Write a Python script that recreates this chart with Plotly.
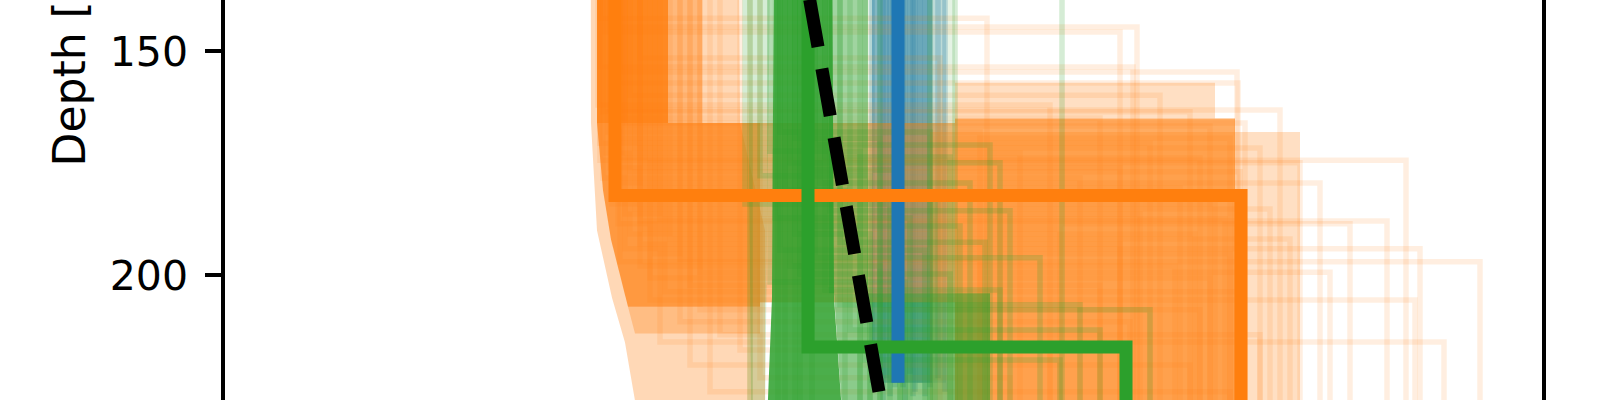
import plotly.graph_objects as go

# ---------------- data (Vs in m/s, depth in m) ----------------
depth_ticks = [150, 200]
y_label = "Depth [m]"

# reference (true) model: linear gradient
true_depth = [0, 250]
true_vs = [700, 898]

# best-fitting models
blue_best_depth = [0, 224.0]
blue_best_vs = [898, 898]
orange_best_depth = [0, 182.2, 182.2, 250]
orange_best_vs = [615, 615, 1241, 1241]
green_best_depth = [0, 216.0, 216.0, 250]
green_best_vs = [808, 808, 1126, 1126]

# ensemble members: two-layer models (Vs top, interface depth, Vs bottom)
orange_vs_top = [600, 610, 605, 640, 600, 620, 615, 630, 610, 625, 600, 640, 620, 650, 660,
                 598, 603, 612, 625, 608, 618, 600, 635, 606, 622, 645, 610, 630, 603, 615,
                 640, 620, 655, 612, 635, 625, 660, 618, 645, 630, 670, 640, 625, 655, 680,
                 640, 700, 650, 690, 665, 700, 680, 720, 740, 690, 760, 710, 750]
orange_iface = [142.6, 144.6, 145.7, 151.5, 153.5, 154.6, 157.1, 159.8, 163.1, 166.0, 174.3, 187.9, 197.0, 205.5, 214.9,
                162.0, 163.5, 164.9, 166.7, 168.0, 169.4, 170.5, 171.6, 172.7, 173.8, 174.9, 176.0, 176.9, 178.3, 179.4,
                180.5, 181.6, 182.7, 184.1, 185.2, 186.3, 187.4, 188.5, 189.7, 190.8, 191.9, 193.0, 194.1, 195.2, 196.4,
                197.9, 199.3, 200.6, 202.2, 203.7, 207.7, 210.4, 213.3, 216.7, 220.0, 222.9, 226.0, 230.1]
orange_vs_bot = [987, 1137, 1120, 940, 1133, 1237, 1238, 1160, 1280, 1245, 1406, 1387, 1480, 1415, 1444,
                 1050, 1190, 1100, 1210, 980, 1230, 1150, 1260, 1020, 1200, 1300, 1120, 1240, 1080, 1320,
                 1180, 1235, 1000, 1215, 1270, 1140, 1225, 1350, 1060, 1195, 1290, 1120, 1420, 1230, 980,
                 1175, 1330, 1210, 1100, 1240, 1200, 1130, 1260, 1050, 1190, 1010, 1230, 1000]

green_vs_top = [780, 795, 815, 770, 825, 790, 805, 760, 820, 785, 800, 745, 830, 775, 810,
                795, 840, 780, 815, 790, 800, 770, 825, 785, 800, 778, 812, 795, 850, 865,
                880, 900, 930, 955, 750, 1062, 840, 860]
green_iface = [168.0, 169.4, 170.9, 172.3, 173.6, 174.9, 176.5, 177.8, 179.4, 181.0, 182.5, 184.1, 185.6, 187.2, 189.0,
               190.8, 192.6, 194.4, 196.1, 197.9, 199.7, 201.5, 203.3, 239.0, 239.0, 239.0, 239.0, 239.0, 212.2, 218.9,
               207.7, 232.3, 239.0, 239.0, 239.0, 239.0, 206.6, 239.0]
green_vs_bot = [930, 880, 990, 860, 950, 1000, 900, 870, 970, 845, 935, 890, 1010, 910, 960,
                870, 985, 925, 1040, 880, 950, 905, 1000, 900, 950, 880, 1000, 920, 1100, 1060,
                1150, 1000, 1000, 1000, 900, 1100, 1080, 950]

blue_vs = [872, 880, 886, 890, 895, 900, 905, 910, 915, 920, 925, 930, 938, 945, 883, 893, 903, 913]
blue_end_depth = [224, 226, 223, 227, 225, 224, 228, 222, 226, 224, 227, 225, 223, 226, 228, 224, 225, 227]

# density envelopes of the ensembles (depth, low Vs, high Vs)
orange_core_depth = [0, 166]
orange_core_lo = [597, 597]
orange_core_hi = [668, 668]
orange_edge_depth = [0, 166]
orange_edge_lo = [668, 668]
orange_edge_hi = [702, 702]
orange_core2_depth = [166, 181, 192, 200, 207]
orange_core2_lo = [597, 603, 611, 620, 628]
orange_core2_hi = [760, 760, 760, 760, 760]
orange_fade_depth = [207, 213]
orange_fade_lo = [628, 635]
orange_fade_hi = [760, 760]
orange_halo_depth = [0, 166, 190, 205, 215, 228, 250]
orange_halo_lo = [590, 591, 597, 612, 625, 635, 640]
orange_halo_hi = [735, 740, 765, 765, 765, 765, 765]
orange_mid_depth = [166, 206]
orange_mid_lo = [760, 760]
orange_mid_hi = [955, 955]
orange_top_depth = [157, 165]
orange_top_lo = [955, 955]
orange_top_hi = [1215, 1215]
orange_deep_depth = [165, 250]
orange_deep_lo = [955, 955]
orange_deep_hi = [1235, 1235]
orange_deep_halo_depth = [168, 250]
orange_deep_halo_lo = [930, 930]
orange_deep_halo_hi = [1300, 1300]

green_core_depth = [0, 205, 250]
green_core_lo = [777, 772, 764]
green_core_hi = [829, 834, 848]
green_med_depth = [0, 204]
green_med_lo = [829, 829]
green_med_hi = [868, 868]
green_low_depth = [204, 250]
green_low_lo = [834, 848]
green_low_hi = [990, 990]
green_light_depth = [0, 250]
green_light_lo = [742, 752]
green_light_hi = [777, 764]
green_right_depth = [0, 204]
green_right_lo = [868, 868]
green_right_hi = [955, 955]

blue_core_depth = [0, 224]
blue_core_lo = [872, 872]
blue_core_hi = [932, 932]
blue_light_depth = [0, 224]
blue_light_lo = [932, 932]
blue_light_hi = [946, 946]

# ---------------- styling ----------------
ORANGE = (255, 127, 14)
GREEN = (44, 160, 44)
BLUE = (31, 119, 180)
TOP, BOTTOM = 0, 250


def rgba(c, a):
    return f"rgba({c[0]},{c[1]},{c[2]},{a})"


fig = go.Figure()


def band(depth, lo, hi, color, alpha):
    fig.add_trace(go.Scatter(
        x=list(lo) + list(hi)[::-1], y=list(depth) + list(depth)[::-1],
        mode="lines", fill="toself", fillcolor=rgba(color, alpha),
        line=dict(width=0), hoverinfo="skip", showlegend=False))


def member(vt, d, vb, color, alpha, width=5.5):
    fig.add_trace(go.Scatter(
        x=[vt, vt, vb, vb], y=[TOP, d, d, BOTTOM], mode="lines",
        line=dict(color=rgba(color, alpha), width=width),
        hoverinfo="skip", showlegend=False))


# blue ensemble
band(blue_core_depth, blue_core_lo, blue_core_hi, BLUE, 0.5)
band(blue_light_depth, blue_light_lo, blue_light_hi, BLUE, 0.2)
for v, e in zip(blue_vs, blue_end_depth):
    fig.add_trace(go.Scatter(x=[v, v], y=[TOP, e], mode="lines",
                             line=dict(color=rgba(BLUE, 0.25), width=5.5),
                             hoverinfo="skip", showlegend=False))

# orange ensemble
band(orange_halo_depth, orange_halo_lo, orange_halo_hi, ORANGE, 0.3)
band(orange_core_depth, orange_core_lo, orange_core_hi, ORANGE, 0.85)
band(orange_edge_depth, orange_edge_lo, orange_edge_hi, ORANGE, 0.35)
band(orange_core2_depth, orange_core2_lo, orange_core2_hi, ORANGE, 0.7)
band(orange_fade_depth, orange_fade_lo, orange_fade_hi, ORANGE, 0.3)
band(orange_mid_depth, orange_mid_lo, orange_mid_hi, ORANGE, 0.45)
band(orange_top_depth, orange_top_lo, orange_top_hi, ORANGE, 0.25)
band(orange_deep_halo_depth, orange_deep_halo_lo, orange_deep_halo_hi, ORANGE, 0.25)
band(orange_deep_depth, orange_deep_lo, orange_deep_hi, ORANGE, 0.65)
for vt, d, vb in zip(orange_vs_top, orange_iface, orange_vs_bot):
    member(vt, d, vb, ORANGE, 0.13)

# green ensemble
band(green_light_depth, green_light_lo, green_light_hi, GREEN, 0.2)
band(green_right_depth, green_right_lo, green_right_hi, GREEN, 0.12)
band(green_med_depth, green_med_lo, green_med_hi, GREEN, 0.45)
band(green_low_depth, green_low_lo, green_low_hi, GREEN, 0.55)
band(green_core_depth, green_core_lo, green_core_hi, GREEN, 0.85)
for vt, d, vb in zip(green_vs_top, green_iface, green_vs_bot):
    member(vt, d, vb, GREEN, 0.2)

# best models
for xs, ys, c in [(blue_best_vs, blue_best_depth, BLUE),
                  (orange_best_vs, orange_best_depth, ORANGE),
                  (green_best_vs, green_best_depth, GREEN)]:
    fig.add_trace(go.Scatter(x=xs, y=ys, mode="lines",
                             line=dict(color=rgba(c, 1), width=13),
                             hoverinfo="skip", showlegend=False))

# true model
fig.add_trace(go.Scatter(x=true_vs, y=true_depth, mode="lines",
                         line=dict(color="black", width=13, dash="48px,22px"),
                         hoverinfo="skip", showlegend=False))

fig.update_layout(
    width=1600, height=400,
    margin=dict(l=225, r=58, t=0, b=0, autoexpand=False),
    paper_bgcolor="white", plot_bgcolor="white",
    font=dict(family="DejaVu Sans", size=41, color="black"),
    showlegend=False,
)
fig.update_xaxes(range=[225, 1542], showline=False, showticklabels=False,
                 ticks="", showgrid=False, zeroline=False, automargin=False)
fig.update_yaxes(range=[227.84, 138.55], tickvals=depth_ticks,
                 ticks="outside", ticklen=16, tickwidth=3.5, tickcolor="black",
                 ticklabelstandoff=9,
                 showline=True, linewidth=3.5, linecolor="black", mirror=True,
                 showgrid=False, zeroline=False, automargin=False,
                 tickfont=dict(family="DejaVu Sans", size=41, color="black"))

fig.add_annotation(text=y_label, textangle=-90, xref="paper", yref="paper",
                   x=0, y=1 - 54.5 / 400, xanchor="center", yanchor="middle",
                   xshift=-156, showarrow=False,
                   font=dict(family="DejaVu Sans", size=44, color="black"))

fig.write_html("out.html",
               config={"displayModeBar": False},
               post_script="document.body.style.margin='0px';"
                           "document.body.style.overflow='hidden';")
